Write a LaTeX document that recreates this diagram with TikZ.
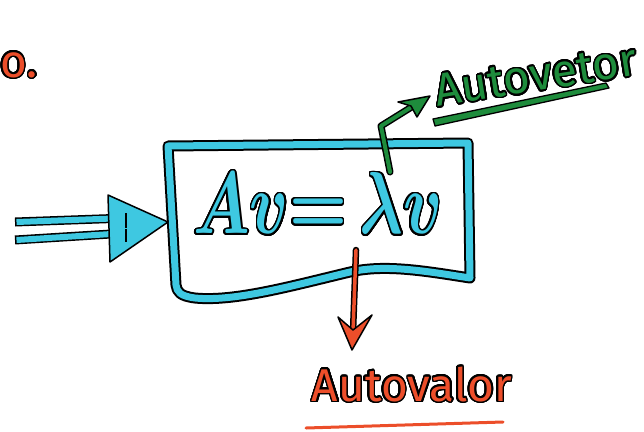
\documentclass[tikz,border=0pt]{standalone}
\usepackage{fontspec}
\setsansfont{Fira Sans}
\usepackage{graphicx}
\usepackage{contour}
\contourlength{1.6pt}
\contournumber{32}
\definecolor{skyc}{RGB}{62,200,225}
\definecolor{leaf}{RGB}{30,140,60}
\definecolor{brick}{RGB}{236,78,42}
\tikzset{
  tubeout/.style={line width=7.5pt,black,line cap=round,line join=round},
  tubein/.style={line width=4.5pt,line cap=round,line join=round},
  headshape/.style={draw=black,line width=1.5pt,line join=round},
  label/.style={font=\sffamily\fontsize{46}{46}\selectfont,inner sep=0pt}
}
\begin{document}
\begin{tikzpicture}[x=1pt,y=-1pt]
\useasboundingbox (0,0) rectangle (644,431);
% stray "o."
\node[label,anchor=west,text=brick] (odot) at (0,66) {\contour{black}{o.}};
% box frame
\def\framepath{(168,146) -- (468,143) -- (470,278) .. controls (425,271) and (385,264) .. (350,272) .. controls (295,285) and (235,302) .. (195,298) .. controls (180,296) and (177,292) .. (176,285) -- cycle}
\draw[line width=11pt,black,line join=round] \framepath;
\draw[line width=7pt,skyc,line join=round] \framepath;
\node[inner sep=0pt] (eq) at (318,204) {\textcolor{skyc}{\contour{black}{\scalebox{6.5}[8.8]{\boldmath$Av{=}\,\lambda v$}}}};
% input double arrow
\coordinate (s1a) at (15,222); \coordinate (s1b) at (127,218);
\coordinate (s2a) at (15,240); \coordinate (s2b) at (127,233);
\draw[tubeout,line width=9pt,line cap=butt] (s1a) -- (s1b);
\draw[tubein,line width=6pt,skyc,line cap=butt] ([xshift=1.5pt]s1a) -- (s1b);
\draw[tubeout,line width=9pt,line cap=butt] (s2a) -- (s2b);
\draw[tubein,line width=6pt,skyc,line cap=butt] ([xshift=1.5pt]s2a) -- (s2b);
\filldraw[headshape,fill=skyc] (108,195) -- (168,222) -- (110,262) -- cycle;
\draw[line width=1.5pt] (126,213) -- (126,228);
\draw[line width=1.5pt] (126,229) -- (126,242);
% green arrow
\coordinate (g0) at (390,172); \coordinate (g1) at (381,126); \coordinate (g2) at (418,103);
\draw[tubeout,line width=7pt] (g0) -- (g1) -- (g2);
\draw[tubein,leaf,line width=4pt] (g0) -- (g1) -- (g2);
\filldraw[headshape,fill=leaf] (430,96) -- (398,102) -- (411,106) -- (417,117) -- cycle;
\node[label,text=leaf,rotate=9] (vetor) at (536,76) {\contour{black}{Autovetor}};
\filldraw[draw=black,line width=1.3pt,fill=leaf,line join=round] (433,119) -- (606,83) -- (609,88) -- (435,126) -- cycle;
% red arrow
\coordinate (r0) at (356,250); \coordinate (r1) at (353,332);
\draw[tubeout,line width=6.5pt] (r0) -- (r1);
\draw[tubein,brick,line width=3.5pt] (r0) -- (r1);
\filldraw[headshape,fill=brick] (338,317) -- (352,350) -- (372,315) -- (353,330) -- cycle;
\node[label,text=brick] (valor) at (412,385) {\contour{black}{Autovalor}};
\draw[line width=3pt,brick,line cap=round] (306,428) -- (503,422);
\end{tikzpicture}
\end{document}
